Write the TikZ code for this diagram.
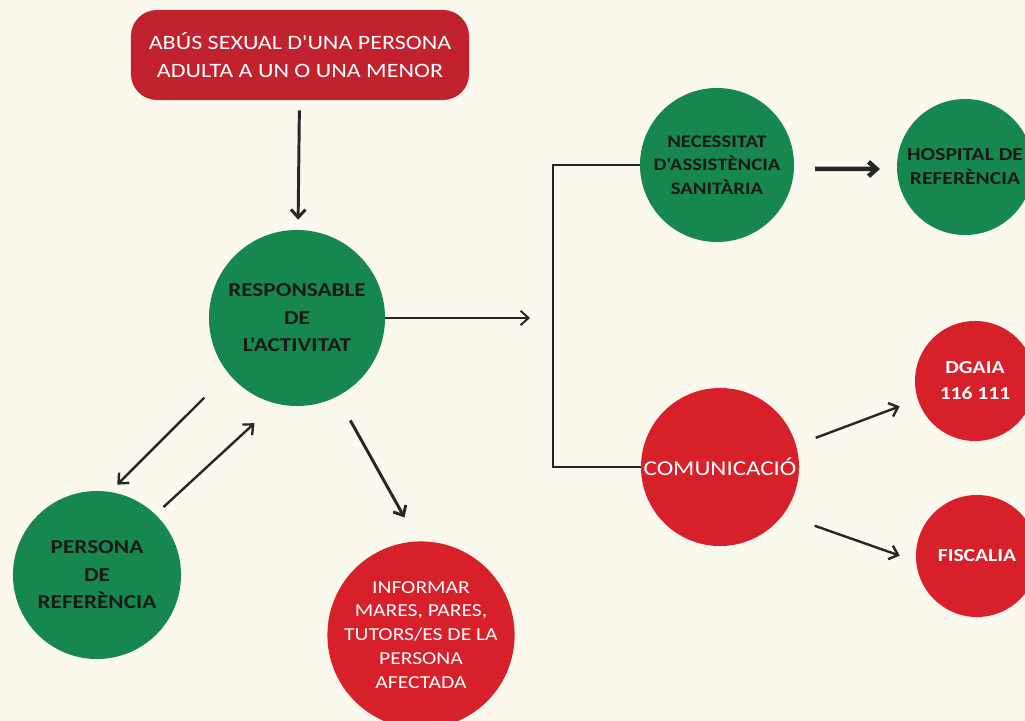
\documentclass[tikz,border=0pt]{standalone}
\usepackage{fontspec}
\setmainfont{Carlito}[FakeStretch=1.18, Ligatures=TeXOff]
\usetikzlibrary{arrows.meta}

\definecolor{fons}{HTML}{FBF8EE}
\definecolor{verd}{HTML}{16874F}
\definecolor{vermell}{HTML}{D8202A}
\definecolor{granat}{HTML}{C2222D}

\begin{document}
\begin{tikzpicture}[x=0.025cm, y=-0.025cm,
    rodona/.style={circle, inner sep=0pt, align=center},
    verda/.style={rodona, fill=verd, text=black!90},
    vermella/.style={rodona, fill=vermell, text=white},
    fletxa/.style={-{Straight Barb[length=2mm, width=3.6mm]}, line width=1.7pt, black!85}]
    % fons
    \fill[fons] (0,0) rectangle (1025,721);
    \useasboundingbox (0,0) rectangle (1025,721);

    % cas
    \node[fill=granat, text=white, rounded corners=0.65cm, align=center,
        minimum width=8.45cm, minimum height=2.25cm,
        font={\fontsize{14.5}{20.5}\selectfont}] (abus) at (300,55)
        {ABÚS SEXUAL D'UNA PERSONA\\ADULTA A UN O UNA MENOR};

    % responsable i persona de referència
    \node[verda, minimum size=4.4cm, font={\fontsize{14}{19.5}\selectfont\bfseries}]
        (resp) at (297,318) {RESPONSABLE\\DE\\L'ACTIVITAT};
    \node[verda, minimum size=4.2cm, font={\fontsize{14}{19.5}\selectfont\bfseries}]
        (pers) at (97,575) {PERSONA\\DE\\REFERÈNCIA};
    \node[vermella, minimum size=4.4cm, font={\fontsize{13}{17}\selectfont}]
        (info) at (421,635) {INFORMAR\\MARES, PARES,\\TUTORS/ES DE LA\\PERSONA\\AFECTADA};

    % branca de la dreta
    \node[verda, minimum size=3.85cm, font={\fontsize{12.5}{16.8}\selectfont\bfseries}]
        (nec) at (717,165) {NECESSITAT\\D'ASSISTÈNCIA\\SANITÀRIA};
    \node[verda, minimum size=3.4cm, font={\fontsize{13}{17}\selectfont\bfseries}]
        (hosp) at (965,167) {HOSPITAL DE\\REFERÈNCIA};
    \node[vermella, minimum size=3.95cm, font={\fontsize{15}{18}\selectfont}]
        (com) at (720,467) {COMUNICACIÓ};
    \node[vermella, minimum size=3cm, font={\fontsize{13}{18.5}\selectfont\bfseries}]
        (dgaia) at (975,381) {DGAIA\\116 111};
    \node[vermella, minimum size=3.05cm, font={\fontsize{13}{18}\selectfont\bfseries}]
        (fisc) at (977,556) {FISCALIA};

    % fletxes
    \draw[fletxa, line width=2.1pt, shorten <=0.25cm, shorten >=0.25cm] (abus) -- (resp);
    \coordinate (claudat) at (530,318);
    \coordinate (clau) at (553,318);
    \draw[fletxa, line width=1.4pt] (resp) -- (claudat);
    \draw[line width=2pt, black!85] (nec.west) -| (clau) |- (com.west);
    \draw[fletxa, shorten <=0.85cm, shorten >=0.25cm] (resp.219.5) -- (pers.81);
    \draw[fletxa, shorten <=0.27cm, shorten >=0.72cm] (pers.46.4) -- (resp.256);
    \draw[fletxa, line width=2.1pt, shorten <=0.68cm, shorten >=0.68cm] (resp.297) -- (info.92);
    \draw[fletxa, line width=3.2pt, shorten <=0.52cm, shorten >=0.42cm] ([yshift=-0.1cm]nec.east) -- ([yshift=-0.05cm]hosp.west);
    \draw[fletxa, shorten <=0.52cm, shorten >=0.48cm] (com.16.8) -- (dgaia.198.4);
    \draw[fletxa, shorten <=0.83cm, shorten >=0.43cm] (com.323.7) -- (fisc.185.6);
\end{tikzpicture}
\end{document}
